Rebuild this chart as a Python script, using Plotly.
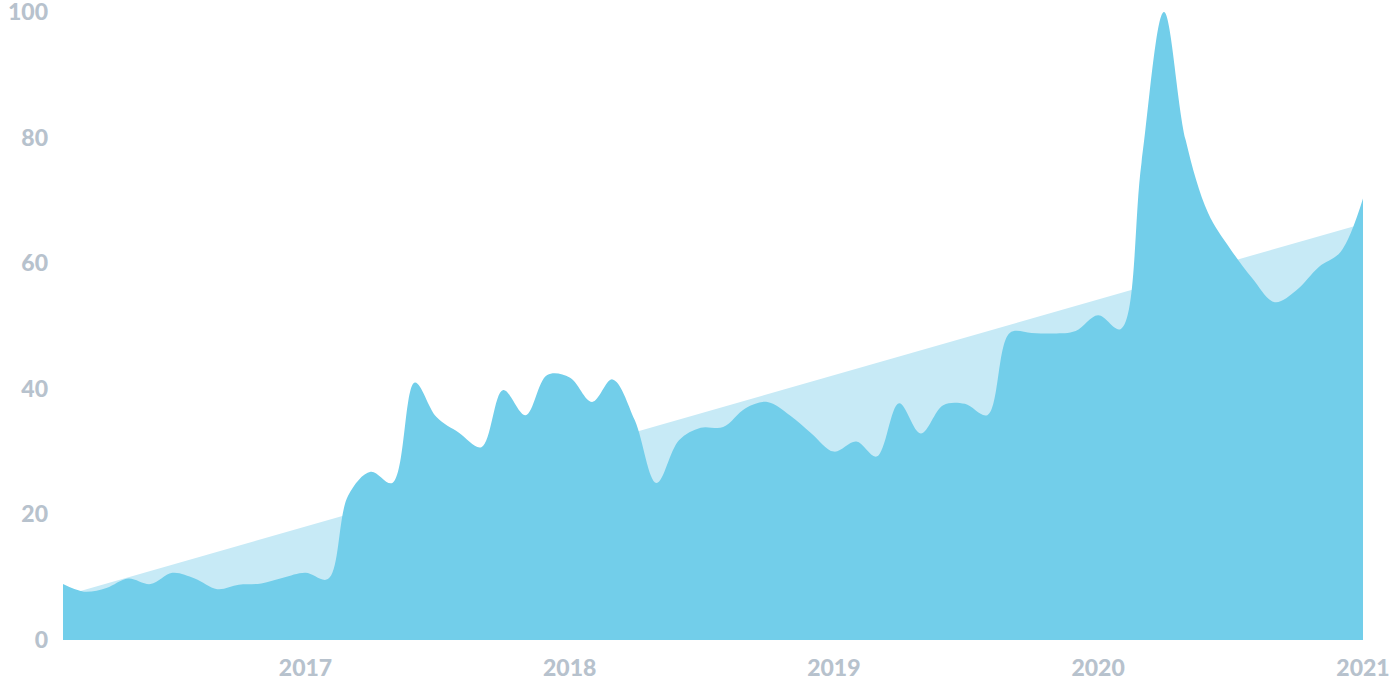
import plotly.graph_objects as go

# Monthly interest values, Feb 2016 .. Jan 2021
months = [
    "2016-02-01", "2016-03-01", "2016-04-01", "2016-05-01", "2016-06-01", "2016-07-01",
    "2016-08-01", "2016-09-01", "2016-10-01", "2016-11-01", "2016-12-01",
    "2017-01-01", "2017-02-01", "2017-03-01", "2017-04-01", "2017-05-01", "2017-06-01",
    "2017-07-01", "2017-08-01", "2017-09-01", "2017-10-01", "2017-11-01", "2017-12-01",
    "2018-01-01", "2018-02-01", "2018-03-01", "2018-04-01", "2018-05-01", "2018-06-01",
    "2018-07-01", "2018-08-01", "2018-09-01", "2018-10-01", "2018-11-01", "2018-12-01",
    "2019-01-01", "2019-02-01", "2019-03-01", "2019-04-01", "2019-05-01", "2019-06-01",
    "2019-07-01", "2019-08-01", "2019-09-01", "2019-10-01", "2019-11-01", "2019-12-01",
    "2020-01-01", "2020-02-01", "2020-03-01", "2020-04-01", "2020-05-01", "2020-06-01",
    "2020-07-01", "2020-08-01", "2020-09-01", "2020-10-01", "2020-11-01", "2020-12-01",
    "2021-01-01",
]
interest = [
    8.9, 7.7, 8.3, 9.8, 8.9, 10.7,
    9.8, 8.1, 8.8, 9.0, 9.9,
    10.7, 9.7, 23.0, 26.8, 25.0, 41.0,
    35.5, 33.0, 30.7, 39.8, 35.8, 42.2,
    41.8, 37.9, 41.5, 35.0, 25.0, 31.8,
    33.8, 33.9, 36.9, 37.9, 35.8, 32.9,
    30.0, 31.6, 29.2, 37.7, 32.9, 37.4,
    37.6, 35.8, 48.9, 48.9, 48.8, 49.2,
    51.7, 49.5, 76.0, 100.0, 79.6, 68.0,
    62.4, 57.6, 53.8, 55.7, 59.4, 61.8,
    70.3,
]

# Linear trend, read at both ends
trend_x = ["2016-02-01", "2021-01-01"]
trend_y = [7.0, 66.3]

year_ticks = ["2017-01-01", "2018-01-01", "2019-01-01", "2020-01-01", "2021-01-01"]
year_labels = ["2017", "2018", "2019", "2020", "2021"]

fig = go.Figure()
# Trend area (behind).
fig.add_trace(
    go.Scatter(
        x=trend_x,
        y=trend_y,
        mode="lines",
        fill="tozeroy",
        fillcolor="#c7eaf6",
        line={"width": 0, "color": "#c7eaf6"},
        hoverinfo="skip",
    )
)
# Interest area.
fig.add_trace(
    go.Scatter(
        x=months,
        y=interest,
        mode="lines",
        fill="tozeroy",
        fillcolor="#72ceea",
        line={"width": 0, "color": "#72ceea", "shape": "spline", "smoothing": 1},
    )
)

tick_font = {"family": "Lato", "size": 23, "color": "#b7c2cd", "weight": 900}
fig.update_layout(
    width=1392,
    height=696,
    margin={"l": 63, "r": 29, "t": 12, "b": 56},
    paper_bgcolor="white",
    plot_bgcolor="white",
    showlegend=False,
    xaxis={
        "range": ["2016-02-01", "2021-01-01"],
        "tickvals": year_ticks,
        "ticktext": year_labels,
        "showgrid": False,
        "zeroline": False,
        "showline": False,
        "ticks": "",
        "tickfont": tick_font,
        "ticklabelstandoff": 12,
        "ticklabeloverflow": "allow",
        "automargin": False,
    },
    yaxis={
        "range": [0, 100],
        "tickvals": [0, 20, 40, 60, 80, 100],
        "showgrid": False,
        "zeroline": False,
        "showline": False,
        "ticks": "",
        "tickfont": tick_font,
        "ticklabelstandoff": 14,
        "ticklabeloverflow": "allow",
        "automargin": False,
    },
)

# page has a default 8px body margin; drop it so the figure sits at the corner
fig.write_html(
    "out.html",
    config={"displayModeBar": False},
    post_script="document.body.style.margin = '0';",
)
